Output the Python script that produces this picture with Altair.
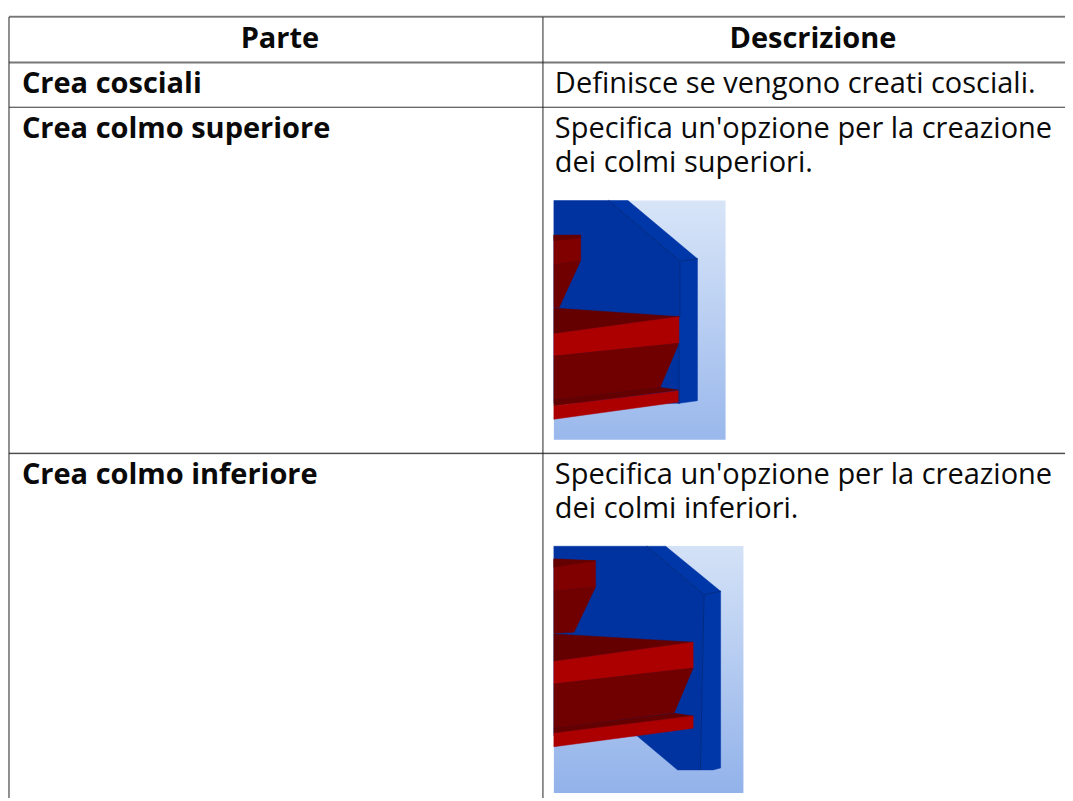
import altair as alt
import pandas as pd

FONT = "Open Sans"

# table rules: x1, x2, y1, y2, colour, width
table_rules = [
    (9, 1073, 13, 13, "#cccccc", 1),
    (9, 1073, 14, 14, "#222222", 1),
    (9, 1073, 60, 60, "#777777", 2),
    (9, 1073, 105, 105, "#333333", 1),
    (9, 1073, 453, 453, "#bbbbbb", 1),
    (9, 1073, 454, 454, "#333333", 1),
    (9, 9, 14, 801, "#222222", 1),
    (547, 547, 14, 801, "#222222", 1),
]

# text: x, y, string, weight, align
texts = [
    (282, 45, "Parte", "bold", "center"),
    (819, 45, "Descrizione", "bold", "center"),
    (22, 91, "Crea cosciali", "bold", "left"),
    (559, 91, "Definisce se vengono creati cosciali.", "normal", "left"),
    (22, 136, "Crea colmo superiore", "bold", "left"),
    (559, 136, "Specifica un'opzione per la creazione", "normal", "left"),
    (559, 170, "dei colmi superiori.", "normal", "left"),
    (22, 485, "Crea colmo inferiore", "bold", "left"),
    (559, 485, "Specifica un'opzione per la creazione", "normal", "left"),
    (559, 519, "dei colmi inferiori.", "normal", "left"),
]

# picture backgrounds: x1, x2, y1, y2, top colour, bottom colour
pictures = [
    (558, 731, 199, 440, "#d8e5f8", "#9ab8ec"),
    (558, 749, 547, 796, "#d4e2f7", "#92b2ea"),
]

BLUE = "#0033a0"
BLUE2 = "#0037a8"
EDGE = "#002a80"
R_FRONT = "#ac0000"
R_WEB = "#700000"
R_TOP = "#640000"
R_STUB = "#800000"

shapes_1 = [
    (BLUE, [(24, 27), (190, 27), (405, 210), (405, 640), (24, 640)]),
    (BLUE2, [(190, 27), (248, 27), (458, 203), (405, 210)]),
    (BLUE2, [(405, 210), (458, 203), (458, 632), (402, 640)]),
    (R_STUB, [(24, 132), (105, 132), (105, 208), (24, 222)]),
    (R_TOP, [(24, 132), (105, 132), (105, 140), (24, 148)]),
    (R_WEB, [(24, 222), (105, 208), (40, 350), (24, 350)]),
    (R_TOP, [(24, 352), (405, 378), (24, 430)]),
    (R_FRONT, [(24, 430), (402, 378), (402, 458), (24, 497)]),
    (R_WEB, [(24, 497), (402, 458), (345, 592), (24, 630)]),
    (R_TOP, [(24, 630), (345, 592), (402, 600), (24, 648)]),
    (R_FRONT, [(24, 648), (402, 602), (402, 636), (24, 688)]),
]
edges_1 = [
    [(190, 27), (405, 210), (405, 378)],
    [(405, 210), (458, 203)],
    [(402, 458), (402, 640)],
]

shapes_2 = [
    (BLUE, [(24, 22), (305, 22), (478, 168), (467, 698), (398, 698), (275, 595), (24, 595)]),
    (BLUE2, [(305, 22), (362, 22), (528, 158), (478, 168)]),
    (BLUE2, [(478, 168), (528, 158), (528, 692), (505, 698), (467, 698)]),
    (R_STUB, [(24, 62), (150, 66), (150, 145), (24, 158)]),
    (R_TOP, [(24, 60), (65, 62), (150, 66), (24, 85)]),
    (R_WEB, [(24, 158), (150, 145), (85, 282), (24, 285)]),
    (R_TOP, [(24, 287), (445, 312), (24, 370)]),
    (R_FRONT, [(24, 370), (445, 312), (445, 390), (24, 438)]),
    (R_WEB, [(24, 438), (445, 390), (388, 525), (24, 572)]),
    (R_TOP, [(24, 572), (388, 527), (445, 535), (24, 587)]),
    (R_FRONT, [(24, 587), (445, 535), (445, 572), (24, 628)]),
]
edges_2 = [
    [(305, 22), (478, 168), (467, 698)],
    [(478, 168), (528, 158)],
]

X_S = alt.Scale(domain=[8, 1073], nice=False, zero=False)
Y_S = alt.Scale(domain=[801, 8], nice=False, zero=False)


def xe(f="x"):
    return alt.X(f"{f}:Q", scale=X_S, axis=None)


def ye(f="y"):
    return alt.Y(f"{f}:Q", scale=Y_S, axis=None)


def zoomed(points, ox, oy):
    return [{"x": ox + p[0] / 3, "y": oy + p[1] / 3, "i": i} for i, p in enumerate(points)]


layers = []

for x1, x2, y1, y2, c1, c2 in pictures:
    d = pd.DataFrame([{"x": x1, "x2": x2, "y": y1, "y2": y2}])
    grad = alt.Gradient(gradient="linear", x1=0, x2=0, y1=0, y2=1,
                        stops=[alt.GradientStop(color=c1, offset=0),
                               alt.GradientStop(color=c2, offset=1)])
    layers.append(alt.Chart(d).mark_rect(fill=grad).encode(
        x=xe(), x2="x2:Q", y=ye(), y2="y2:Q"))

for shapes, edges, ox, oy in [(shapes_1, edges_1, 550, 190), (shapes_2, edges_2, 550, 540)]:
    for colour, pts in shapes:
        closed = pts + [pts[0]]
        d = pd.DataFrame(zoomed(closed, ox, oy))
        layers.append(alt.Chart(d).mark_line(fill=colour, stroke=colour, strokeWidth=0.5).encode(
            x=xe(), y=ye(), order="i:Q"))
    for pts in edges:
        d = pd.DataFrame(zoomed(pts, ox, oy))
        layers.append(alt.Chart(d).mark_line(stroke=EDGE, strokeWidth=1).encode(
            x=xe(), y=ye(), order="i:Q"))

for x1, x2, y1, y2, colour, w in table_rules:
    d = pd.DataFrame([{"x": x1, "x2": x2, "y": y1, "y2": y2}])
    layers.append(alt.Chart(d).mark_rule(color=colour, strokeWidth=w).encode(
        x=xe(), x2="x2:Q", y=ye(), y2="y2:Q"))

for x, y, s, weight, align in texts:
    d = pd.DataFrame([{"x": x, "y": y, "t": s}])
    layers.append(alt.Chart(d).mark_text(font=FONT, fontSize=29.2, fontWeight=weight, align=align,
                                         baseline="alphabetic", color="#0a0a0a").encode(
        x=xe(), y=ye(), text="t:N"))

chart = alt.layer(*layers).properties(
    width=1065, height=793, padding=0, autosize=alt.AutoSizeParams(type="none"), background="#ffffff"
).configure_view(strokeWidth=0)

chart.save("out.html", embed_options={"renderer": "svg", "actions": False})
